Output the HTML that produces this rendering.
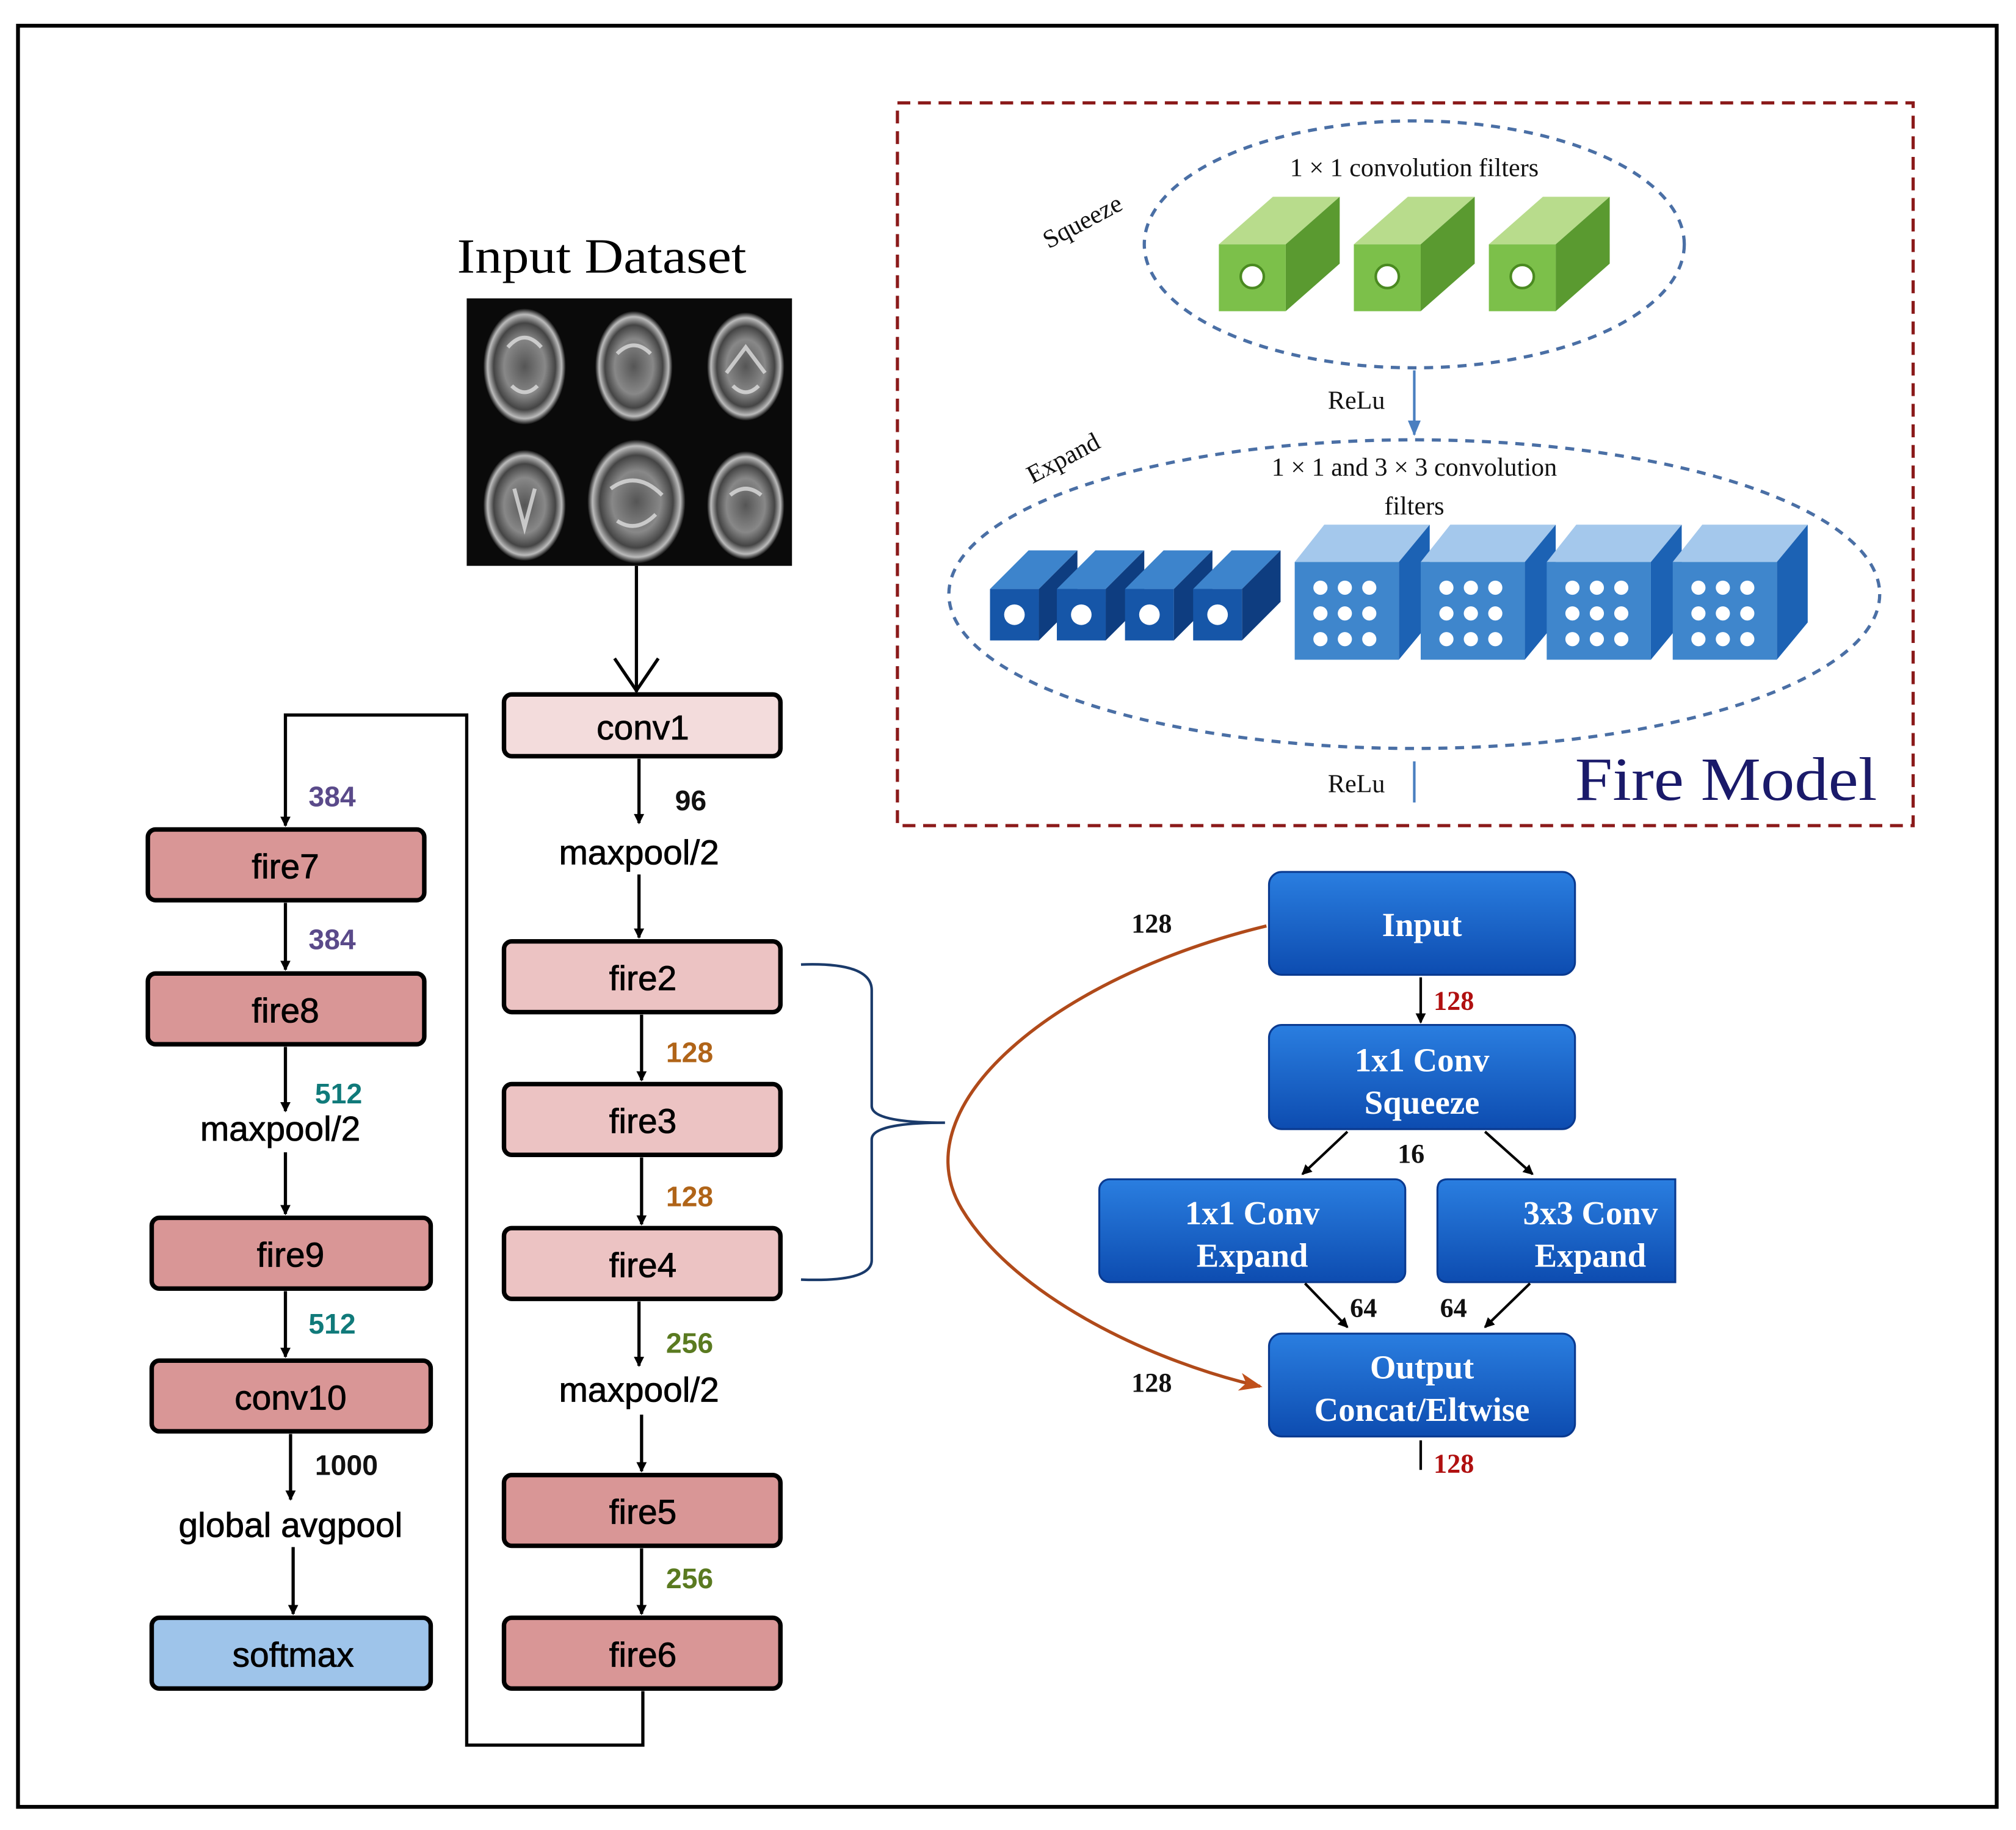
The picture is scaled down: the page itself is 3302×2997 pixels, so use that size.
<!DOCTYPE html>
<html><head><meta charset="utf-8"><style>html,body{margin:0;padding:0;background:#fff}svg{display:block}</style></head>
<body>
<svg width="3302" height="2997" viewBox="0 0 1568 1423" preserveAspectRatio="none" xmlns="http://www.w3.org/2000/svg" font-family="Liberation Sans, sans-serif">
<defs>
<linearGradient id="bl" x1="0" y1="0" x2="0" y2="1"><stop offset="0" stop-color="#2a7ee0"/><stop offset="1" stop-color="#0d4cb0"/></linearGradient>
<radialGradient id="br"><stop offset="0" stop-color="#555"/><stop offset="0.5" stop-color="#888"/><stop offset="0.75" stop-color="#444"/><stop offset="0.9" stop-color="#bbb"/><stop offset="1" stop-color="#111"/></radialGradient>
<marker id="ah" markerWidth="8" markerHeight="8" refX="7" refY="4" orient="auto" markerUnits="userSpaceOnUse"><path d="M0,0 L8,4 L0,8 z" fill="#000"/></marker>
<marker id="ahr" markerWidth="18" markerHeight="14" refX="16" refY="7" orient="auto" markerUnits="userSpaceOnUse"><path d="M0,0 L18,7 L0,14 L5,7 z" fill="#c0501a"/></marker>
<marker id="ahb" markerWidth="12" markerHeight="10" refX="11" refY="5" orient="auto" markerUnits="userSpaceOnUse"><path d="M0,0 L12,5 L0,10 z" fill="#4a7fc0"/></marker>
</defs>
<rect x="14" y="20" width="1539" height="1385" fill="none" stroke="#000" stroke-width="3"/>
<rect x="698" y="80" width="790" height="562" fill="none" stroke="#8b1a1a" stroke-width="2.5" stroke-dasharray="10,6"/>

<text x="468" y="212" font-family="Liberation Serif, serif" font-size="38" text-anchor="middle" textLength="225" lengthAdjust="spacingAndGlyphs">Input Dataset</text>
<rect x="363" y="232" width="253" height="208" fill="#0a0a0a"/>
<g fill="url(#br)">
<ellipse cx="408" cy="285" rx="32" ry="45"/><ellipse cx="493" cy="285" rx="30" ry="43"/><ellipse cx="580" cy="285" rx="30" ry="42"/>
<ellipse cx="408" cy="393" rx="32" ry="43"/><ellipse cx="495" cy="390" rx="38" ry="48"/><ellipse cx="580" cy="393" rx="30" ry="42"/>
</g>
<g fill="none" stroke="#ddd" stroke-width="3" opacity="0.8">
<path d="M395,270 Q408,255 421,270 M398,300 Q408,310 418,300"/>
<path d="M480,275 Q493,262 506,275"/>
<path d="M565,290 L580,270 L595,290 M570,300 Q580,310 590,300"/>
<path d="M400,380 L408,410 L416,380"/>
<path d="M475,380 Q495,365 515,385 M480,405 Q495,415 510,400"/>
<path d="M568,385 Q580,375 592,385"/>
</g>
<line x1="495" y1="440" x2="495" y2="538" stroke="#000" stroke-width="2.5"/>
<path d="M478,512 L495,537 L512,512" fill="none" stroke="#000" stroke-width="2.5"/>

<g stroke="#000" stroke-width="3.5">
<rect x="392" y="540" width="215" height="48" rx="6" fill="#f3dcdc"/>
<rect x="392" y="732" width="215" height="55" rx="6" fill="#ecc3c3"/>
<rect x="392" y="843" width="215" height="55" rx="6" fill="#ecc3c3"/>
<rect x="392" y="955" width="215" height="55" rx="6" fill="#ecc3c3"/>
<rect x="392" y="1147" width="215" height="55" rx="6" fill="#d99696"/>
<rect x="392" y="1258" width="215" height="55" rx="6" fill="#d99696"/>
<rect x="115" y="645" width="215" height="55" rx="6" fill="#d99696"/>
<rect x="115" y="757" width="215" height="55" rx="6" fill="#d99696"/>
<rect x="118" y="947" width="217" height="55" rx="6" fill="#d99696"/>
<rect x="118" y="1058" width="217" height="55" rx="6" fill="#d99696"/>
<rect x="118" y="1258" width="217" height="55" rx="6" fill="#9ec4ea"/>
</g>
<g font-size="27" text-anchor="middle" fill="#000" stroke="#000" stroke-width="0.4">
<text x="500" y="575">conv1</text><text x="500" y="770">fire2</text><text x="500" y="881">fire3</text><text x="500" y="993">fire4</text>
<text x="500" y="1185">fire5</text><text x="500" y="1296">fire6</text><text x="222" y="683">fire7</text><text x="222" y="795">fire8</text>
<text x="226" y="985">fire9</text><text x="226" y="1096">conv10</text><text x="228" y="1296">softmax</text>
<text x="497" y="672">maxpool/2</text><text x="497" y="1090">maxpool/2</text><text x="218" y="887">maxpool/2</text><text x="226" y="1195">global avgpool</text>
</g>
<g stroke="#000" stroke-width="2.5" fill="none" marker-end="url(#ah)">
<line x1="497" y1="590" x2="497" y2="640"/><line x1="497" y1="680" x2="497" y2="729"/>
<line x1="499" y1="789" x2="499" y2="840"/><line x1="499" y1="900" x2="499" y2="952"/>
<line x1="497" y1="1012" x2="497" y2="1062"/><line x1="499" y1="1100" x2="499" y2="1144"/>
<line x1="499" y1="1204" x2="499" y2="1255"/>
<line x1="222" y1="702" x2="222" y2="754"/><line x1="222" y1="814" x2="222" y2="864"/>
<line x1="222" y1="896" x2="222" y2="944"/><line x1="222" y1="1004" x2="222" y2="1055"/>
<line x1="226" y1="1115" x2="226" y2="1166"/><line x1="228" y1="1203" x2="228" y2="1255"/>
<polyline points="500,1315 500,1357 363,1357 363,556 222,556 222,642"/>
</g>
<g font-size="22" font-weight="bold">
<text x="525" y="630" fill="#111">96</text>
<text x="518" y="826" fill="#b06418">128</text><text x="518" y="938" fill="#b06418">128</text>
<text x="518" y="1052" fill="#5a7a20">256</text><text x="518" y="1235" fill="#5a7a20">256</text>
<text x="240" y="627" fill="#5a4a8a">384</text><text x="240" y="738" fill="#5a4a8a">384</text>
<text x="245" y="858" fill="#107a7a">512</text><text x="240" y="1037" fill="#107a7a">512</text>
<text x="245" y="1147" fill="#111">1000</text>
</g>
<path d="M623,750 Q678,748 678,770 L678,860 Q678,873 735,873 Q678,873 678,886 L678,980 Q678,997 623,995" fill="none" stroke="#1a3a6a" stroke-width="2"/>

<g stroke="#0a3a90" stroke-width="1.5" fill="url(#bl)">
<rect x="987" y="678" width="238" height="80" rx="10"/>
<rect x="987" y="797" width="238" height="81" rx="10"/>
<rect x="855" y="917" width="238" height="80" rx="8"/>
<path d="M1126,917 L1303,917 L1303,997 L1126,997 Q1118,997 1118,989 L1118,925 Q1118,917 1126,917 z"/>
<rect x="987" y="1037" width="238" height="80" rx="10"/>
</g>
<g fill="#fff" font-family="Liberation Serif, serif" font-weight="bold" font-size="26" text-anchor="middle">
<text x="1106" y="728">Input</text>
<text x="1106" y="833">1x1 Conv</text><text x="1106" y="866">Squeeze</text>
<text x="974" y="952">1x1 Conv</text><text x="974" y="985">Expand</text>
<text x="1237" y="952">3x3 Conv</text><text x="1237" y="985">Expand</text>
<text x="1106" y="1072">Output</text><text x="1106" y="1105">Concat/Eltwise</text>
</g>
<g stroke="#000" stroke-width="2" fill="none" marker-end="url(#ah)">
<line x1="1105" y1="760" x2="1105" y2="795"/>
<line x1="1048" y1="880" x2="1013" y2="913"/><line x1="1155" y1="880" x2="1192" y2="913"/>
<line x1="1015" y1="998" x2="1048" y2="1032"/><line x1="1190" y1="998" x2="1155" y2="1032"/>
</g>
<line x1="1105" y1="1120" x2="1105" y2="1143" stroke="#000" stroke-width="2"/>
<g font-family="Liberation Serif, serif" font-weight="bold" font-size="21">
<text x="880" y="725" fill="#111">128</text><text x="880" y="1082" fill="#111">128</text>
<text x="1115" y="785" fill="#b01010">128</text><text x="1115" y="1145" fill="#b01010">128</text>
<text x="1087" y="904" fill="#111">16</text><text x="1050" y="1024" fill="#111">64</text><text x="1120" y="1024" fill="#111">64</text>
</g>
<path d="M985,720 C820,760 700,860 748,940 C790,1010 900,1060 980,1078" fill="none" stroke="#b04a1a" stroke-width="2.5" marker-end="url(#ahr)"/>

<ellipse cx="1100" cy="190" rx="210" ry="96" fill="none" stroke="#4a6fa5" stroke-width="2.5" stroke-dasharray="7,6"/>
<ellipse cx="1100" cy="462" rx="362" ry="120" fill="none" stroke="#4a6fa5" stroke-width="2.5" stroke-dasharray="7,6"/>
<g font-family="Liberation Serif, serif" font-size="20" text-anchor="middle" fill="#111">
<text x="1100" y="137">1 × 1 convolution filters</text>
<text x="1100" y="370">1 × 1 and 3 × 3 convolution</text>
<text x="1100" y="400">filters</text>
<text x="1055" y="318">ReLu</text><text x="1055" y="616">ReLu</text>
<text x="845" y="178" transform="rotate(-28 845 178)">Squeeze</text>
<text x="830" y="362" transform="rotate(-28 830 362)">Expand</text>
</g>
<line x1="1100" y1="288" x2="1100" y2="338" stroke="#4a7fc0" stroke-width="2" marker-end="url(#ahb)"/>
<line x1="1100" y1="592" x2="1100" y2="624" stroke="#4a7fc0" stroke-width="2"/>
<text x="1225" y="622" font-family="Liberation Serif, serif" font-size="48" fill="#1a1a6a" textLength="235" lengthAdjust="spacingAndGlyphs">Fire Model</text>

<g id="gc">
<polygon points="948,190 990,153 1042,153 1000,190" fill="#b8dc8c"/>
<polygon points="1000,190 1042,153 1042,205 1000,242" fill="#5a9a30"/>
<rect x="948" y="190" width="52" height="52" fill="#7cc04a"/>
<circle cx="974" cy="215" r="9" fill="#fff" stroke="#4a8a20" stroke-width="2"/>
</g>
<use href="#gc" x="105"/><use href="#gc" x="210"/>

<g id="sc">
<polygon points="770,458 800,428 838,428 808,458" fill="#3d84cc"/>
<polygon points="808,458 838,428 838,468 808,498" fill="#0e3d80"/>
<rect x="770" y="458" width="38" height="40" fill="#1656a8"/>
<circle cx="789" cy="478" r="8" fill="#fff"/>
</g>
<use href="#sc" x="52"/><use href="#sc" x="105"/><use href="#sc" x="158"/>

<g id="bc">
<polygon points="1007,437 1030,408 1112,408 1088,437" fill="#a4c8ec"/>
<polygon points="1088,437 1112,408 1112,484 1088,513" fill="#1c62b4"/>
<rect x="1007" y="437" width="81" height="76" fill="#3f86cc"/>
<g fill="#fff"><circle cx="1027" cy="457" r="5.5"/><circle cx="1046" cy="457" r="5.5"/><circle cx="1065" cy="457" r="5.5"/>
<circle cx="1027" cy="477" r="5.5"/><circle cx="1046" cy="477" r="5.5"/><circle cx="1065" cy="477" r="5.5"/>
<circle cx="1027" cy="497" r="5.5"/><circle cx="1046" cy="497" r="5.5"/><circle cx="1065" cy="497" r="5.5"/></g>
</g>
<use href="#bc" x="98"/><use href="#bc" x="196"/><use href="#bc" x="294"/>
</svg>
</body></html>
